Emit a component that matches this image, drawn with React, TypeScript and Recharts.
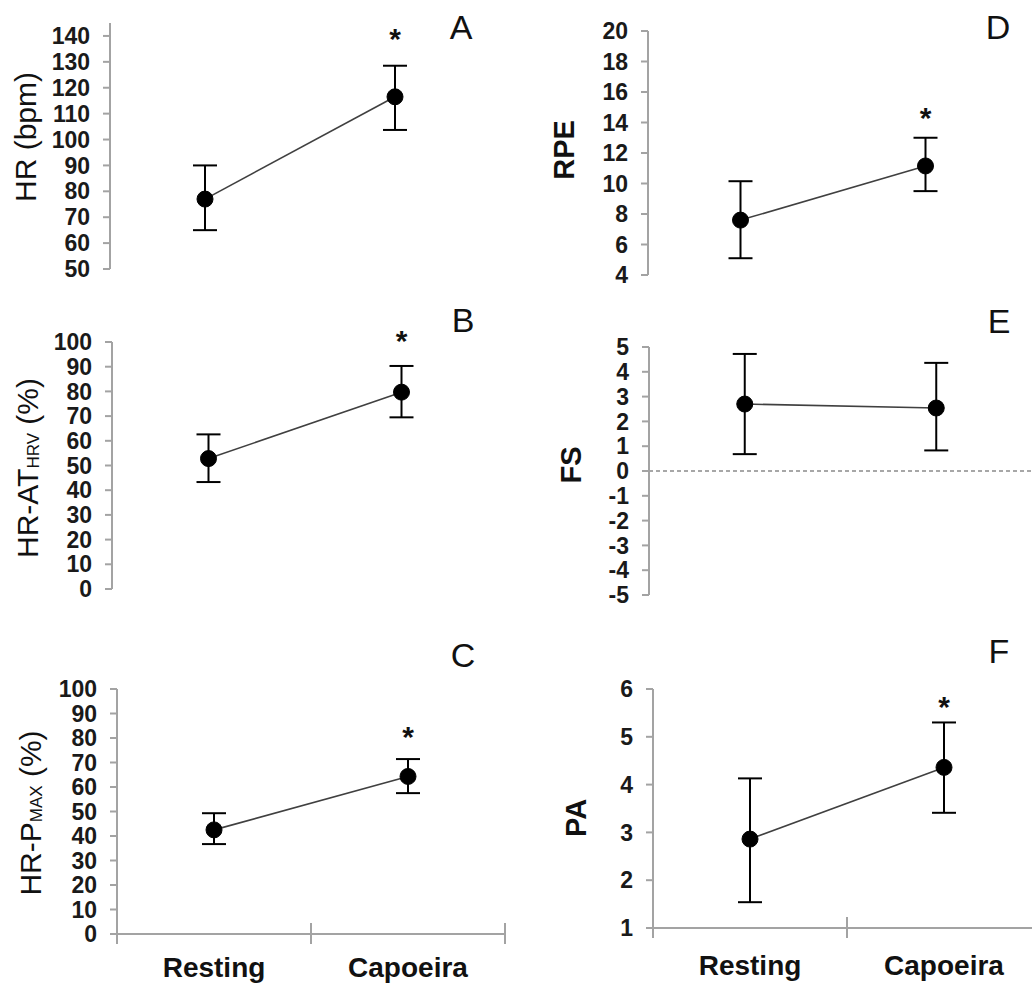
import React from "react";
import {
  ComposedChart,
  Line,
  XAxis,
  YAxis,
  ErrorBar,
  ReferenceDot,
  ReferenceLine,
} from "recharts";

const FONT = "'Liberation Sans', Arial, Helvetica, sans-serif";
const AXIS_GREY = "#a3a3a3";

// categories on the x axis
const categories = ["Resting", "Capoeira"];

// A - heart rate
const hrTicks = [50, 60, 70, 80, 90, 100, 110, 120, 130, 140];
const hrMean = [77, 116.5];
const hrLow = [65, 103.7];
const hrHigh = [90, 128.5];
const hrStar = [null, 141.7];

// B - HR at HRV threshold
const atTicks = [0, 10, 20, 30, 40, 50, 60, 70, 80, 90, 100];
const atMean = [52.8, 79.7];
const atLow = [43.3, 69.5];
const atHigh = [62.6, 90.3];
const atStar = [null, 103.1];

// C - HR at max power
const pmaxTicks = [0, 10, 20, 30, 40, 50, 60, 70, 80, 90, 100];
const pmaxMean = [42.5, 64.3];
const pmaxLow = [36.7, 57.5];
const pmaxHigh = [49.3, 71.4];
const pmaxStar = [null, 83.4];

// D - rating of perceived exertion
const rpeTicks = [4, 6, 8, 10, 12, 14, 16, 18, 20];
const rpeMean = [7.6, 11.15];
const rpeLow = [5.1, 9.5];
const rpeHigh = [10.15, 13.0];
const rpeStar = [null, 14.77];

// E - feeling scale
const fsTicks = [-5, -4, -3, -2, -1, 0, 1, 2, 3, 4, 5];
const fsMean = [2.7, 2.54];
const fsLow = [0.68, 0.83];
const fsHigh = [4.72, 4.36];
const fsStar = [null, null];

// F - perceived activation
const paTicks = [1, 2, 3, 4, 5, 6];
const paMean = [2.86, 4.36];
const paLow = [1.54, 3.41];
const paHigh = [4.13, 5.3];
const paStar = [null, 5.76];

const buildRows = (mean: number[], low: number[], high: number[]) =>
  categories.map((name, i) => ({
    x: i + 0.5,
    name,
    mean: mean[i],
    err: [mean[i] - low[i], high[i] - mean[i]],
  }));

interface PanelProps {
  letter: string;
  letterPos: [number, number];
  title: string;
  sub?: string;
  tail?: string;
  bold?: boolean;
  titlePos: [number, number];
  rows: ReturnType<typeof buildRows>;
  stars: (number | null)[];
  ticks: number[];
  domain: [number, number];
  left: number;
  top: number;
  width: number;
  height: number;
  margin: { top: number; right: number; bottom: number; left: number };
  yWidth: number;
  showX?: boolean;
  xHeight?: number;
  labelDy?: number;
  zeroLine?: boolean;
}

function Panel(p: PanelProps) {
  const renderTitle = () => (
    <text
      transform={`translate(${p.titlePos[0]}, ${p.titlePos[1]}) rotate(-90)`}
      textAnchor="middle"
      dominantBaseline="central"
      fontFamily={FONT}
      fontSize={p.bold ? 29 : 30}
      fontWeight={p.bold ? 700 : 400}
      fill="#111"
    >
      {p.title}
      {p.sub && (
        <tspan fontSize={17} dy={6}>
          {p.sub}
        </tspan>
      )}
      {p.tail && <tspan dy={p.sub ? -6 : 0}>{p.tail}</tspan>}
    </text>
  );

  const renderCatTick = (props: any) => {
    const { x, y, payload } = props;
    const v = payload.value;
    if (Number.isInteger(v)) {
      return (
        <line x1={x} x2={x} y1={y - 11} y2={y + 10} stroke={AXIS_GREY} strokeWidth={2} />
      );
    }
    return (
      <text
        x={x}
        y={y + (p.labelDy || 43)}
        textAnchor="middle"
        fontFamily={FONT}
        fontSize={28}
        fontWeight={700}
        fill="#111"
      >
        {categories[Math.floor(v)]}
      </text>
    );
  };

  return (
    <div style={{ position: "absolute", left: p.left, top: p.top, width: p.width, height: p.height }}>
      <ComposedChart width={p.width} height={p.height} data={p.rows} margin={p.margin}>
        <XAxis
          type="number"
          dataKey="x"
          domain={[0, 2]}
          ticks={[0, 0.5, 1, 1.5, 2]}
          interval={0}
          hide={!p.showX}
          height={p.xHeight || 30}
          axisLine={{ stroke: AXIS_GREY, strokeWidth: 2 }}
          tickLine={false}
          tickSize={0}
          tickMargin={0}
          tick={renderCatTick}
        />
        <YAxis
          type="number"
          domain={p.domain}
          ticks={p.ticks}
          interval={0}
          width={p.yWidth}
          axisLine={{ stroke: AXIS_GREY, strokeWidth: 2 }}
          tickLine={{ stroke: AXIS_GREY, strokeWidth: 2 }}
          tickSize={7}
          tickMargin={13}
          tick={{ fontSize: 23, fontWeight: 700, fill: "#1a1a1a", fontFamily: FONT }}
          label={{ value: p.title, content: renderTitle }}
        />
        {p.zeroLine && (
          <ReferenceLine y={0} stroke="#8a8a8a" strokeWidth={1.5} strokeDasharray="4 3" />
        )}
        <Line
          dataKey="mean"
          stroke="#404040"
          strokeWidth={1.6}
          dot={{ r: 8, fill: "#000", stroke: "#000", strokeWidth: 1 }}
          activeDot={false}
          isAnimationActive={false}
        >
          <ErrorBar dataKey="err" direction="y" width={12} stroke="#000" strokeWidth={2} isAnimationActive={false} />
        </Line>
        {p.stars.map((s, i) =>
          s == null ? null : (
            <ReferenceDot
              key={i}
              x={i + 0.5}
              y={s}
              r={0}
              ifOverflow="visible"
              shape={(d: any) => (
                <text
                  x={d.cx}
                  y={d.cy + 17}
                  textAnchor="middle"
                  fontFamily={FONT}
                  fontSize={30}
                  fontWeight={700}
                  fill="#111"
                >
                  *
                </text>
              )}
            />
          )
        )}
      </ComposedChart>
      <svg
        width={p.width}
        height={p.height}
        style={{ position: "absolute", left: 0, top: 0, pointerEvents: "none" }}
      >
        <text
          x={p.letterPos[0]}
          y={p.letterPos[1]}
          textAnchor="middle"
          fontFamily={FONT}
          fontSize={34}
          fill="#111"
        >
          {p.letter}
        </text>
      </svg>
    </div>
  );
}

export default function App() {
  return (
    <div
      style={{
        position: "absolute",
        left: 0,
        top: 0,
        width: 1032,
        height: 987,
        overflow: "hidden",
        background: "#fff",
      }}
    >
      <Panel
        letter="A"
        letterPos={[461, 39]}
        title="HR (bpm)"
        titlePos={[25, 137]}
        rows={buildRows(hrMean, hrLow, hrHigh)}
        stars={hrStar}
        ticks={hrTicks}
        domain={[50, 145]}
        left={0}
        top={0}
        width={516}
        height={300}
        margin={{ top: 23, right: 26, bottom: 31, left: 10 }}
        yWidth={100}
      />
      <Panel
        letter="B"
        letterPos={[463, 32]}
        title="HR-AT"
        sub="HRV"
        tail=" (%)"
        titlePos={[27, 168]}
        rows={buildRows(atMean, atLow, atHigh)}
        stars={atStar}
        ticks={atTicks}
        domain={[0, 100]}
        left={0}
        top={300}
        width={516}
        height={330}
        margin={{ top: 42, right: 18, bottom: 41, left: 12 }}
        yWidth={100}
      />
      <Panel
        letter="C"
        letterPos={[463, 37]}
        title="HR-P"
        sub="MAX"
        tail=" (%)"
        titlePos={[30, 183]}
        rows={buildRows(pmaxMean, pmaxLow, pmaxHigh)}
        stars={pmaxStar}
        ticks={pmaxTicks}
        domain={[0, 100]}
        left={0}
        top={630}
        width={516}
        height={357}
        margin={{ top: 59, right: 11, bottom: 0, left: 17 }}
        yWidth={100}
        showX
        xHeight={53}
        labelDy={43}
      />
      <Panel
        letter="D"
        letterPos={[482, 39]}
        title="RPE"
        bold
        titlePos={[48, 150]}
        rows={buildRows(rpeMean, rpeLow, rpeHigh)}
        stars={rpeStar}
        ticks={rpeTicks}
        domain={[4, 20]}
        left={516}
        top={0}
        width={516}
        height={300}
        margin={{ top: 31, right: 14, bottom: 25, left: 22 }}
        yWidth={110}
      />
      <Panel
        letter="E"
        letterPos={[483, 33]}
        title="FS"
        bold
        titlePos={[55, 165]}
        rows={buildRows(fsMean, fsLow, fsHigh)}
        stars={fsStar}
        ticks={fsTicks}
        domain={[-5, 5]}
        left={516}
        top={300}
        width={516}
        height={330}
        margin={{ top: 47, right: 0, bottom: 35, left: 23 }}
        yWidth={110}
        zeroLine
      />
      <Panel
        letter="F"
        letterPos={[483, 33]}
        title="PA"
        bold
        titlePos={[60, 188]}
        rows={buildRows(paMean, paLow, paHigh)}
        stars={paStar}
        ticks={paTicks}
        domain={[1, 6]}
        left={516}
        top={630}
        width={530}
        height={357}
        margin={{ top: 59, right: 5, bottom: 0, left: 27 }}
        yWidth={110}
        showX
        xHeight={59}
        labelDy={47}
      />
    </div>
  );
}
